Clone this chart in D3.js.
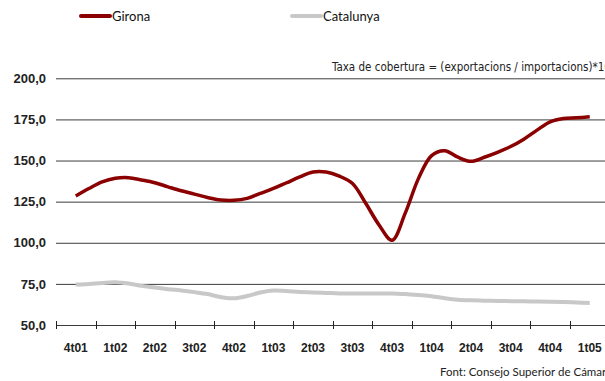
<!DOCTYPE html>
<html>
<head>
<meta charset="utf-8">
<script src="https://cdn.jsdelivr.net/npm/d3@7"></script>
<style>
  body { margin: 0; background: #fff; }
  svg { display: block; font-family: Lato, "DejaVu Sans", sans-serif; }
  .grid line { stroke: #3c3c3c; stroke-width: 1; }
  .grid text { font-size: 13px; font-weight: bold; fill: #222; }
  .xaxis text { font-size: 12px; font-weight: bold; fill: #222; }
</style>
</head>
<body>
<div id="chart"></div>
<script>
(function(){

// quarters shown on the axis
var quarters = ["4t01","1t02","2t02","3t02","4t02","1t03","2t03","3t03","4t03","1t04","2t04","3t04","4t04","1t05"];

// monthly readings, from the middle of 4t01 to the middle of 1t05
var girona = [128.5,133,137,139.2,139.6,138.2,136.5,134,131.6,129.6,127.5,126,125.8,127,130,133,136.5,140,143,143,
              140.5,136,124,111,101.5,118,139,153,156,152,149.5,152,155,158.5,163,168.5,173.5,175.5,176,176.6];
var catalunya = [74.6,75,75.6,76,75.2,73.8,72.8,71.8,71,70,68.8,67,66.2,67.6,69.8,71,70.6,70,69.8,69.5,
                 69.2,69.2,69.2,69.2,69.2,68.8,68.2,67.5,66.3,65.4,65,64.8,64.6,64.5,64.4,64.3,64.2,64,63.7,63.4];

var yTicks = [50, 75, 100, 125, 150, 175, 200];

var W = 605, H = 381;
var left = 56, right = 609.5, top = 78.3, bottom = 325;

var svg = d3.select("#chart").append("svg")
    .attr("width", W)
    .attr("height", H);

var x = d3.scaleBand().domain(quarters).range([left, right]).padding(0);
var y = d3.scaleLinear().domain([50, 200]).range([bottom, top]);
var xm = d3.scaleLinear()
    .domain([0, girona.length - 1])
    .range([x(quarters[0]) + x.bandwidth() / 2, x(quarters[quarters.length - 1]) + x.bandwidth() / 2]);

var fmt = function(d) { return d3.format(".1f")(d).replace(".", ","); };

// gridlines + y labels
var grid = svg.append("g")
    .attr("class", "grid")
    .attr("transform", "translate(" + left + ",0)")
    .call(d3.axisLeft(y).tickValues(yTicks).tickSize(-(W - left)).tickFormat(fmt).tickPadding(10));
grid.select(".domain").remove();

// x axis: labels centred in bands, tick marks on band edges
var xaxis = svg.append("g")
    .attr("class", "xaxis")
    .attr("transform", "translate(0," + bottom + ")")
    .call(d3.axisBottom(x).tickSize(0).tickPadding(18));
xaxis.select(".domain").remove();

svg.append("g").selectAll("line")
    .data(quarters)
  .enter().append("line")
    .attr("x1", function(d) { return Math.round(x(d)) + 0.5; })
    .attr("x2", function(d) { return Math.round(x(d)) + 0.5; })
    .attr("y1", bottom - 4)
    .attr("y2", bottom + 4)
    .style("stroke", "#222");

var line = d3.line()
    .x(function(d, i) { return xm(i); })
    .y(function(d) { return y(d); })
    .curve(d3.curveCatmullRom);

svg.append("path")
    .attr("d", line(catalunya))
    .style("fill", "none")
    .style("stroke", "#c8c8c8")
    .style("stroke-width", 4);

svg.append("path")
    .attr("d", line(girona))
    .style("fill", "none")
    .style("stroke", "#8b0000")
    .style("stroke-width", 3.5);

// legend
var legend = [
  {name: "Girona", color: "#8b0000", x: 81},
  {name: "Catalunya", color: "#c8c8c8", x: 292}
];
var lg = svg.append("g").selectAll("g")
    .data(legend)
  .enter().append("g")
    .attr("transform", function(d) { return "translate(" + d.x + ",16)"; });
lg.append("line")
    .attr("x1", 0).attr("x2", 29)
    .style("stroke", function(d) { return d.color; })
    .style("stroke-width", 4)
    .style("stroke-linecap", "round");
lg.append("text")
    .attr("x", 31)
    .attr("dy", "0.35em")
    .style("font-size", "13px")
    .style("fill", "#111")
    .text(function(d) { return d.name; });

svg.append("text")
    .attr("x", 332)
    .attr("y", 71)
    .style("font-family", "'Liberation Sans Narrow', 'DejaVu Sans Condensed', sans-serif")
    .style("font-stretch", "condensed")
    .style("font-size", "11.5px")
    .style("fill", "#222")
    .text("Taxa de cobertura = (exportacions / importacions)*100");

svg.append("text")
    .attr("x", 440)
    .attr("y", 376)
    .style("font-size", "11.5px")
    .style("fill", "#222")
    .text("Font: Consejo Superior de Cámaras");

})();
</script>
</body>
</html>
